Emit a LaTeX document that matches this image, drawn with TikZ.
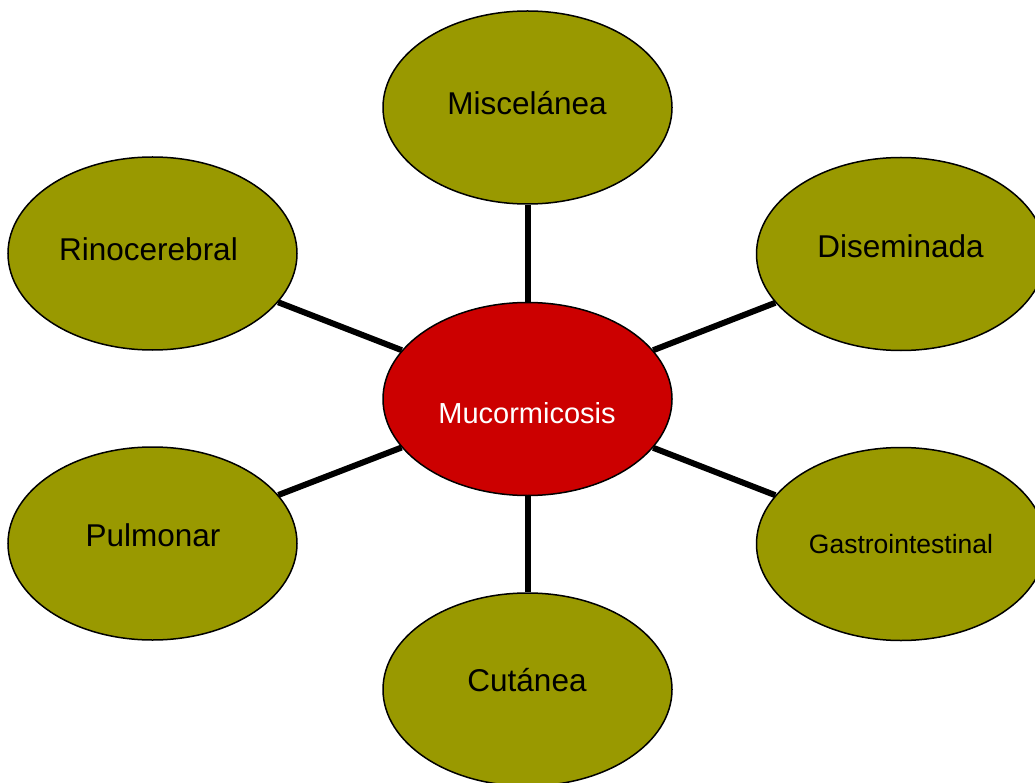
\documentclass[tikz,border=0pt]{standalone}
\usepackage{fontspec}
\setmainfont{Liberation Sans}
\usetikzlibrary{shapes.geometric}
\definecolor{olivefill}{HTML}{999900}
\definecolor{redfill}{HTML}{CC0000}
\tikzset{
  bubble/.style={ellipse, draw=black, line width=1.5pt, fill=olivefill,
    minimum width=289pt, minimum height=193pt, inner sep=0pt},
  hub/.style={bubble, fill=redfill},
  lbl/.style={anchor=base, inner sep=0pt, font=\fontsize{31.5}{36}\selectfont},
  link/.style={line width=6pt, black}
}
\begin{document}
\begin{tikzpicture}[x=1pt,y=-1pt]
\useasboundingbox (0,0) rectangle (1035,783);
\clip (0,0) rectangle (1035,783);
\node[bubble] (misc) at (527.5,107.5) {};
\node[bubble] (rino) at (152.5,253.5) {};
\node[bubble] (dise) at (901,254) {};
\node[hub] (muc) at (527.5,399) {};
\node[bubble] (pulm) at (152.5,543.5) {};
\node[bubble] (gast) at (901,544) {};
\node[bubble] (cuta) at (527.5,689.5) {};
\draw[link] (muc) -- (misc);
\draw[link] (muc) -- (rino);
\draw[link] (muc) -- (dise);
\draw[link] (muc) -- (pulm);
\draw[link] (muc) -- (gast);
\draw[link] (muc) -- (cuta);
\node[lbl] (tmisc) at (527,115) {Miscelánea};
\node[lbl] (trino) at (148.5,261) {Rinocerebral};
\node[lbl] (tdise) at (900.5,258) {Diseminada};
\node[lbl, text=white, font=\fontsize{29}{34}\selectfont] (tmuc) at (527,423) {Mucormicosis};
\node[lbl] (tpulm) at (153,546) {Pulmonar};
\node[lbl, font=\fontsize{26.5}{31}\selectfont] (tgast) at (901,553) {Gastrointestinal};
\node[lbl] (tcuta) at (527,691) {Cutánea};
\end{tikzpicture}
\end{document}
